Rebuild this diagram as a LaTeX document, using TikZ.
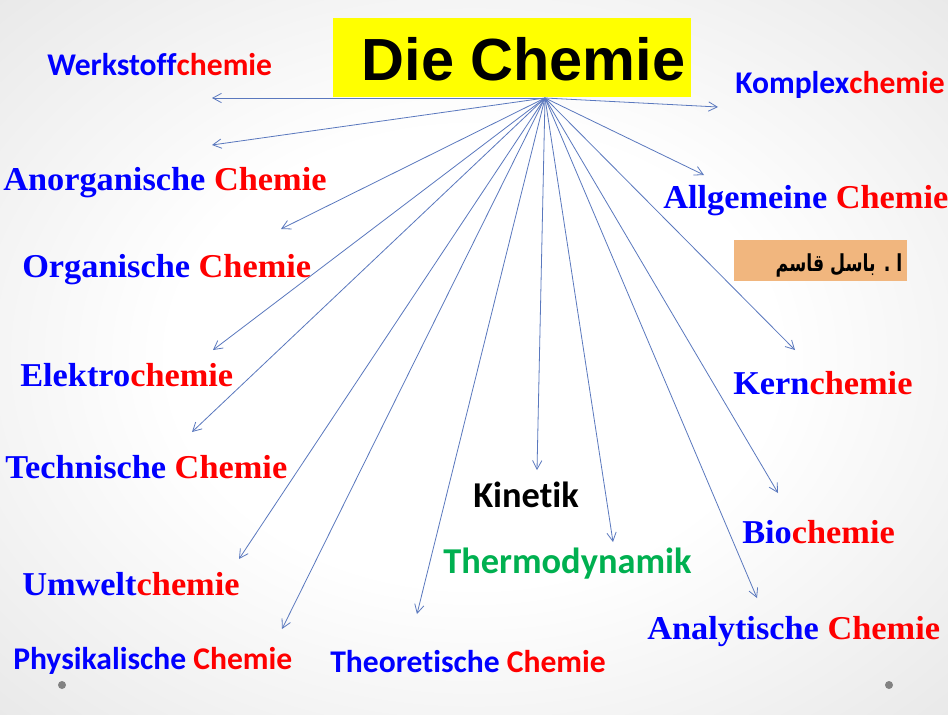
\documentclass[tikz,border=0pt]{standalone}
\usepackage{fontspec}
\usetikzlibrary{arrows.meta}
\TeXXeTstate=1
\newfontfamily\labserif[FakeStretch=1.03]{Liberation Serif}
\newfontfamily\labsans[Ligatures=NoCommon]{Carlito}
\newfontfamily\titlefont{Liberation Sans}
\newfontfamily\arabicfont[Script=Arabic]{DejaVu Sans}
\definecolor{fieldcolor}{RGB}{0,0,255}
\definecolor{chemcolor}{RGB}{255,0,0}
\definecolor{thermocolor}{RGB}{0,176,80}
\definecolor{titleyellow}{RGB}{255,255,0}
\definecolor{namebox}{RGB}{241,182,126}
\definecolor{linkcolor}{RGB}{90,120,190}
\definecolor{dotgray}{RGB}{130,130,130}
\pgfdeclareradialshading{slidebg}{\pgfpoint{0bp}{0bp}}{color(0bp)=(white); color(16bp)=(white); color(50bp)=(black!15); color(72bp)=(black!21)}
\tikzset{
  serifln/.style={anchor=base west, inner sep=0pt, font=\labserif\bfseries\fontsize{25}{30}\selectfont},
  sansln/.style={anchor=base west, inner sep=0pt, font=\labsans\bfseries\fontsize{23.7}{28}\selectfont},
  bigsans/.style={anchor=base west, inner sep=0pt, font=\labsans\bfseries\fontsize{27.3}{32}\selectfont},
  branch/.style={-{Straight Barb[length=6.5pt,width=7pt]}, line width=0.6pt, linkcolor},
}
\newcommand{\chemname}[2]{\textcolor{fieldcolor}{#1}\textcolor{chemcolor}{#2}}

\begin{document}
\begin{tikzpicture}[x=0.75pt, y=-0.75pt]
  % background: light radial shading, also fixes the page size
  \shade[shading=slidebg] (0,0) rectangle (948,714);
  \useasboundingbox (0,0) rectangle (948,714);
  % title box
  \fill[titleyellow] (333,18) rectangle (691,97);
  \node[anchor=base, inner sep=0pt, font=\titlefont\bfseries\fontsize{44.6}{54}\selectfont] (title) at (523.5,80) {Die Chemie};
  % author box
  \fill[namebox] (734,240) rectangle (907,281);
  \node[anchor=base, inner sep=0pt, font=\arabicfont\bfseries\fontsize{13}{16}\selectfont] (author) at (839,271) {\scalebox{1}[1.35]{\beginR ا . باسل قاسم\endR}};
  % branches from the hub under the title
  \coordinate (hub) at (545,98);
  \foreach \tipname/\tx/\ty in {werk/212/98, anorg/212/145, organ/281/229, elektro/213/350,
      techn/192/432, umwelt/239/559, physik/282/629, theor/417/614, kinetik/537/470,
      thermo/613/542, analyt/757/598, bio/778/493, kern/795/350, allg/704/175, komplex/718/107}{
    \coordinate (\tipname) at (\tx,\ty);
    \draw[branch] (hub) -- (\tipname);
  }
  % left column
  \node[sansln] (werklbl) at (47,75) {\chemname{Werkstoff}{chemie}};
  \node[serifln] (anorglbl) at (3,190) {\chemname{Anorganische }{Chemie}};
  \node[serifln] (organlbl) at (22,277) {\chemname{Organische }{Chemie}};
  \node[serifln] (elektrolbl) at (20,386) {\chemname{Elektro}{chemie}};
  \node[serifln] (technlbl) at (5,478) {\chemname{Technische }{Chemie}};
  \node[serifln] (umweltlbl) at (22,595) {\chemname{Umwelt}{chemie}};
  \node[sansln] (physiklbl) at (13,669) {\chemname{Physikalische }{Chemie}};
  % middle
  \node[sansln] (theorlbl) at (330,672) {\chemname{Theoretische }{Chemie}};
  \node[bigsans] (kinetiklbl) at (473,507) {Kinetik};
  \node[bigsans, text=thermocolor] (thermolbl) at (443,573) {Thermodynamik};
  % right column
  \node[sansln] (komplexlbl) at (735,93) {\chemname{Komplex}{chemie}};
  \node[serifln] (allglbl) at (663,208) {\chemname{Allgemeine }{Chemie}};
  \node[serifln] (kernlbl) at (733,394) {\chemname{Kern}{chemie}};
  \node[serifln] (biolbl) at (742,543) {\chemname{Bio}{chemie}};
  \node[serifln] (analytlbl) at (647,639) {\chemname{Analytische }{Chemie}};
  % slide dots
  \fill[dotgray] (62,685) circle (4);
  \fill[dotgray] (889,685) circle (4);
\end{tikzpicture}
\end{document}
